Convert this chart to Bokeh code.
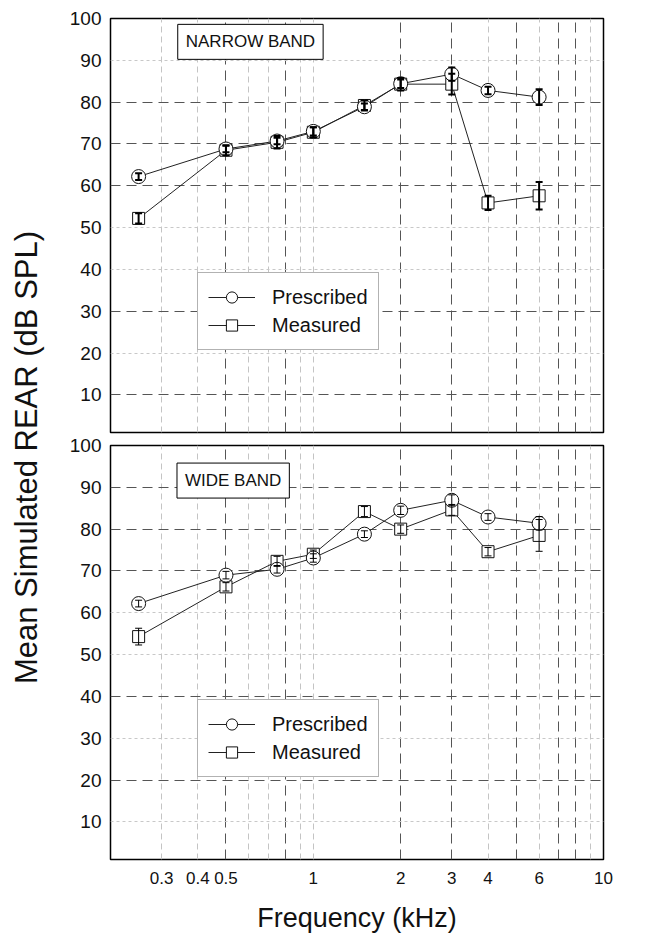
import math
from bokeh.plotting import figure
from bokeh.models import (Range1d, FixedTicker, Grid, Whisker, TeeHead, ColumnDataSource,
                          Legend, LegendItem, Label, CustomJSTickFormatter)
from bokeh.layouts import row, column
from bokeh.embed import file_html
from bokeh.resources import INLINE

# ---------------- data ----------------
freqs = [0.25, 0.5, 0.75, 1.0, 1.5, 2.0, 3.0, 4.0, 6.0]

narrow_prescribed = [62.2, 68.8, 70.7, 73.0, 78.9, 84.4, 86.7, 82.8, 81.2]
narrow_prescribed_err = [0.8, 0.8, 0.8, 1.0, 0.8, 1.0, 1.6, 0.9, 1.9]
narrow_measured = [52.2, 68.5, 70.4, 72.8, 79.2, 84.3, 84.3, 55.9, 57.6]
narrow_measured_err = [1.2, 1.2, 1.5, 1.2, 1.2, 1.5, 2.5, 1.7, 3.3]

wide_prescribed = [62.2, 69.0, 70.4, 73.1, 78.8, 84.5, 86.9, 82.9, 81.4]
wide_prescribed_err = [0.8, 0.9, 0.9, 1.0, 0.8, 1.0, 1.3, 0.8, 1.6]
wide_measured = [54.3, 66.2, 72.3, 74.0, 84.2, 80.0, 84.6, 74.6, 78.5]
wide_measured_err = [2.0, 1.0, 1.2, 1.0, 1.2, 1.0, 1.3, 1.0, 3.8]

x_tick_values = [0.3, 0.4, 0.5, 1, 2, 3, 4, 6, 10]
y_tick_values = [10, 20, 30, 40, 50, 60, 70, 80, 90, 100]

x_grid_dark = [0.5, 0.8, 2, 3, 5, 7, 8]
x_grid_light = [0.3, 0.4, 0.6, 0.7, 0.9, 1, 4, 6, 9]
top_y_grid_dark = [10, 30, 60, 70, 80]
top_y_grid_light = [20, 40, 50, 90]
bottom_y_grid_dark = [20, 40, 70, 80, 90]
bottom_y_grid_light = [10, 30, 50, 60]

FONT = "Liberation Sans"


def make_panel(title, title_xy, pres, pres_err, meas, meas_err, height, top_b, bottom_b,
               show_x, err_width, ygrid_dark, ygrid_light):
    p = figure(width=565, height=height, x_axis_type="log",
               x_range=Range1d(0.2, 10), y_range=Range1d(1, 100),
               x_axis_location="below" if show_x else None,
               output_backend="svg", toolbar_location=None,
               min_border_left=52, min_border_right=20,
               min_border_top=top_b, min_border_bottom=bottom_b)
    p.background_fill_color = "white"
    p.border_fill_color = "white"
    p.outline_line_color = "black"
    p.outline_line_width = 1.5
    p.outline_line_alpha = 1.0
    p.xgrid.visible = False
    p.ygrid.visible = False

    # grids
    p.add_layout(Grid(dimension=0, ticker=FixedTicker(ticks=x_grid_light),
                      grid_line_color="#c4c4c4", grid_line_dash="6 4", grid_line_width=1))
    p.add_layout(Grid(dimension=0, ticker=FixedTicker(ticks=x_grid_dark),
                      grid_line_color="#555555", grid_line_dash="10 6", grid_line_width=1))
    p.add_layout(Grid(dimension=1, ticker=FixedTicker(ticks=ygrid_light),
                      grid_line_color="#c8c8c8", grid_line_dash="3 3", grid_line_width=1))
    p.add_layout(Grid(dimension=1, ticker=FixedTicker(ticks=ygrid_dark),
                      grid_line_color="#555555", grid_line_dash="10 6", grid_line_width=1))

    # y axis
    p.yaxis.ticker = FixedTicker(ticks=y_tick_values, minor_ticks=[])
    p.yaxis.major_tick_out = 0
    p.yaxis.major_tick_in = 0
    p.yaxis.minor_tick_out = 0
    p.yaxis.axis_line_color = None
    p.yaxis.major_label_standoff = 9
    p.yaxis.major_label_text_font = FONT
    p.yaxis.major_label_text_font_size = "19px"
    p.yaxis.major_label_text_color = "#111111"

    if show_x:
        p.xaxis.ticker = FixedTicker(ticks=x_tick_values, minor_ticks=[])
        p.xaxis.formatter = CustomJSTickFormatter(code="return tick.toString();")
        p.xaxis.major_tick_out = 0
        p.xaxis.major_tick_in = 0
        p.xaxis.minor_tick_out = 0
        p.xaxis.minor_tick_in = 0
        p.xaxis.axis_line_color = None
        p.xaxis.major_label_standoff = 12
        p.xaxis.major_label_text_font = FONT
        p.xaxis.major_label_text_font_size = "17px"
        p.xaxis.major_label_text_color = "#111111"
        p.xaxis.axis_label = "Frequency (kHz)"
        p.xaxis.axis_label_text_font = FONT
        p.xaxis.axis_label_text_font_size = "27px"
        p.xaxis.axis_label_text_font_style = "normal"
        p.xaxis.axis_label_text_color = "#111111"
        p.xaxis.axis_label_standoff = 16

    # series
    lp = p.line(freqs, pres, line_color="#222222", line_width=1)
    lm = p.line(freqs, meas, line_color="#222222", line_width=1)
    sm = p.scatter(freqs, meas, marker="square", size=12, fill_color="white",
                   line_color="#111111", line_width=1)
    sp = p.scatter(freqs, pres, marker="circle", size=14, fill_color="white",
                   line_color="#111111", line_width=1)

    for vals, errs in ((pres, pres_err), (meas, meas_err)):
        src = ColumnDataSource(dict(
            x=freqs,
            lower=[v - e for v, e in zip(vals, errs)],
            upper=[v + e for v, e in zip(vals, errs)],
        ))
        w = Whisker(base="x", lower="lower", upper="upper", source=src, dimension="height",
                    line_color="black", line_width=err_width, level="overlay",
                    upper_head=TeeHead(size=7, line_width=err_width, line_color="black"),
                    lower_head=TeeHead(size=7, line_width=err_width, line_color="black"))
        p.add_layout(w)

    legend = Legend(items=[LegendItem(label="Prescribed", renderers=[lp, sp]),
                           LegendItem(label="Measured", renderers=[lm, sm])],
                    location=(87, 82), orientation="vertical")
    legend.border_line_color = "#666666"
    legend.border_line_width = 1
    legend.background_fill_color = "white"
    legend.background_fill_alpha = 1.0
    legend.label_text_font = FONT
    legend.label_text_font_size = "20px"
    legend.label_text_color = "#111111"
    legend.glyph_width = 47
    legend.glyph_height = 28
    legend.label_height = 28
    legend.spacing = 0
    legend.padding = 10
    legend.margin = 0
    legend.label_standoff = 17
    p.add_layout(legend)

    lbl = Label(x=title_xy[0], y=title_xy[1], text=title, text_align="left", text_baseline="top",
                text_font=FONT, text_font_size="17px", text_color="#111111",
                border_line_color="black", border_line_width=1,
                background_fill_color="white", background_fill_alpha=1.0, padding=8)
    p.add_layout(lbl)
    return p


top = make_panel("NARROW BAND", (0.341, 98.6),
                 narrow_prescribed, narrow_prescribed_err, narrow_measured, narrow_measured_err,
                 height=435, top_b=18, bottom_b=3, show_x=False, err_width=2,
                 ygrid_dark=top_y_grid_dark, ygrid_light=top_y_grid_light)
bottom = make_panel("WIDE BAND", (0.339, 95.8),
                    wide_prescribed, wide_prescribed_err, wide_measured, wide_measured_err,
                    height=502, top_b=10, bottom_b=78, show_x=True, err_width=1,
                    ygrid_dark=bottom_y_grid_dark, ygrid_light=bottom_y_grid_light)

# shared y-axis title
lab = figure(width=58, height=937, x_range=Range1d(0, 58), y_range=Range1d(0, 937),
             x_axis_location=None, y_axis_location=None,
             output_backend="svg", toolbar_location=None,
             min_border=0)
lab.outline_line_color = None
lab.xgrid.visible = False
lab.ygrid.visible = False
lab.add_layout(Label(x=26, y=480, text="Mean Simulated REAR (dB SPL)", angle=math.pi / 2,
                     text_align="center", text_baseline="middle",
                     text_font=FONT, text_font_size="31px", text_color="#111111"))

layout = row(lab, column(top, bottom))
open("out.html", "w").write(file_html(layout, INLINE))
